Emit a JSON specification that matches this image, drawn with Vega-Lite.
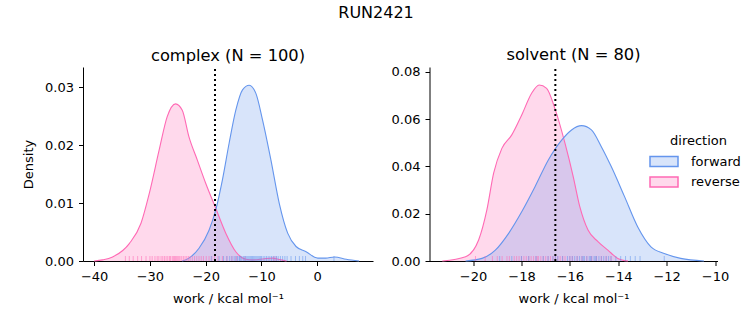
{
  "$schema": "https://vega.github.io/schema/vega-lite/v6.json",
  "padding": {"left": 22, "top": 5, "right": 5, "bottom": 5},
  "title": {"text": "RUN2421", "anchor": "middle", "fontSize": 16, "fontWeight": "normal", "offset": 26, "dx": -6},
  "datasets": {
    "curves": [
      {"panel": "complex", "direction": "reverse", "x": -40.0, "y": 0.0},
      {"panel": "complex", "direction": "reverse", "x": -38.5, "y": 0.0002},
      {"panel": "complex", "direction": "reverse", "x": -36.7, "y": 0.0007},
      {"panel": "complex", "direction": "reverse", "x": -33.7, "y": 0.003},
      {"panel": "complex", "direction": "reverse", "x": -31.6, "y": 0.0065},
      {"panel": "complex", "direction": "reverse", "x": -30.1, "y": 0.0117},
      {"panel": "complex", "direction": "reverse", "x": -28.35, "y": 0.0191},
      {"panel": "complex", "direction": "reverse", "x": -26.9, "y": 0.0249},
      {"panel": "complex", "direction": "reverse", "x": -25.4, "y": 0.0271},
      {"panel": "complex", "direction": "reverse", "x": -24.2, "y": 0.026},
      {"panel": "complex", "direction": "reverse", "x": -23.0, "y": 0.0214},
      {"panel": "complex", "direction": "reverse", "x": -21.5, "y": 0.0174},
      {"panel": "complex", "direction": "reverse", "x": -20.0, "y": 0.0134},
      {"panel": "complex", "direction": "reverse", "x": -18.2, "y": 0.0091},
      {"panel": "complex", "direction": "reverse", "x": -16.4, "y": 0.0048},
      {"panel": "complex", "direction": "reverse", "x": -14.6, "y": 0.0016},
      {"panel": "complex", "direction": "reverse", "x": -12.8, "y": 0.0003},
      {"panel": "complex", "direction": "reverse", "x": -11.5, "y": 0.0002},
      {"panel": "complex", "direction": "reverse", "x": -9.5, "y": 0.0004},
      {"panel": "complex", "direction": "reverse", "x": -8.0, "y": 0.0005},
      {"panel": "complex", "direction": "reverse", "x": -7.0, "y": 0.0003},
      {"panel": "complex", "direction": "reverse", "x": -5.5, "y": 0.0},
      {"panel": "complex", "direction": "forward", "x": -24.2, "y": 0.0},
      {"panel": "complex", "direction": "forward", "x": -23.0, "y": 0.0005},
      {"panel": "complex", "direction": "forward", "x": -21.2, "y": 0.0022},
      {"panel": "complex", "direction": "forward", "x": -19.4, "y": 0.0053},
      {"panel": "complex", "direction": "forward", "x": -18.2, "y": 0.0088},
      {"panel": "complex", "direction": "forward", "x": -17.0, "y": 0.014},
      {"panel": "complex", "direction": "forward", "x": -15.8, "y": 0.0203},
      {"panel": "complex", "direction": "forward", "x": -14.6, "y": 0.026},
      {"panel": "complex", "direction": "forward", "x": -13.4, "y": 0.0295},
      {"panel": "complex", "direction": "forward", "x": -12.2, "y": 0.0303},
      {"panel": "complex", "direction": "forward", "x": -11.0, "y": 0.0289},
      {"panel": "complex", "direction": "forward", "x": -9.8, "y": 0.0243},
      {"panel": "complex", "direction": "forward", "x": -8.3, "y": 0.0174},
      {"panel": "complex", "direction": "forward", "x": -6.8, "y": 0.0099},
      {"panel": "complex", "direction": "forward", "x": -5.3, "y": 0.0048},
      {"panel": "complex", "direction": "forward", "x": -3.8, "y": 0.0025},
      {"panel": "complex", "direction": "forward", "x": -2.0, "y": 0.0016},
      {"panel": "complex", "direction": "forward", "x": 0.1, "y": 0.0005},
      {"panel": "complex", "direction": "forward", "x": 1.5, "y": 0.0005},
      {"panel": "complex", "direction": "forward", "x": 3.1, "y": 0.0007},
      {"panel": "complex", "direction": "forward", "x": 5.2, "y": 0.0003},
      {"panel": "complex", "direction": "forward", "x": 7.5, "y": 0.0},
      {"panel": "solvent", "direction": "reverse", "x": -21.27, "y": 0.0},
      {"panel": "solvent", "direction": "reverse", "x": -20.31, "y": 0.0018},
      {"panel": "solvent", "direction": "reverse", "x": -19.77, "y": 0.0089},
      {"panel": "solvent", "direction": "reverse", "x": -19.43, "y": 0.0216},
      {"panel": "solvent", "direction": "reverse", "x": -19.15, "y": 0.0371},
      {"panel": "solvent", "direction": "reverse", "x": -18.81, "y": 0.0476},
      {"panel": "solvent", "direction": "reverse", "x": -18.4, "y": 0.0533},
      {"panel": "solvent", "direction": "reverse", "x": -17.99, "y": 0.0617},
      {"panel": "solvent", "direction": "reverse", "x": -17.58, "y": 0.0709},
      {"panel": "solvent", "direction": "reverse", "x": -17.27, "y": 0.0744},
      {"panel": "solvent", "direction": "reverse", "x": -16.96, "y": 0.073},
      {"panel": "solvent", "direction": "reverse", "x": -16.62, "y": 0.0645},
      {"panel": "solvent", "direction": "reverse", "x": -16.2, "y": 0.0497},
      {"panel": "solvent", "direction": "reverse", "x": -15.86, "y": 0.0356},
      {"panel": "solvent", "direction": "reverse", "x": -15.59, "y": 0.023},
      {"panel": "solvent", "direction": "reverse", "x": -15.25, "y": 0.0131},
      {"panel": "solvent", "direction": "reverse", "x": -14.84, "y": 0.0082},
      {"panel": "solvent", "direction": "reverse", "x": -14.43, "y": 0.0046},
      {"panel": "solvent", "direction": "reverse", "x": -14.02, "y": 0.0011},
      {"panel": "solvent", "direction": "reverse", "x": -13.6, "y": 0.0},
      {"panel": "solvent", "direction": "forward", "x": -20.31, "y": 0.0},
      {"panel": "solvent", "direction": "forward", "x": -19.63, "y": 0.0011},
      {"panel": "solvent", "direction": "forward", "x": -19.08, "y": 0.0046},
      {"panel": "solvent", "direction": "forward", "x": -18.53, "y": 0.0117},
      {"panel": "solvent", "direction": "forward", "x": -17.99, "y": 0.0208},
      {"panel": "solvent", "direction": "forward", "x": -17.44, "y": 0.0314},
      {"panel": "solvent", "direction": "forward", "x": -16.89, "y": 0.0427},
      {"panel": "solvent", "direction": "forward", "x": -16.34, "y": 0.0511},
      {"panel": "solvent", "direction": "forward", "x": -15.93, "y": 0.0554},
      {"panel": "solvent", "direction": "forward", "x": -15.52, "y": 0.0572},
      {"panel": "solvent", "direction": "forward", "x": -15.11, "y": 0.0554},
      {"panel": "solvent", "direction": "forward", "x": -14.7, "y": 0.0483},
      {"panel": "solvent", "direction": "forward", "x": -14.29, "y": 0.0399},
      {"panel": "solvent", "direction": "forward", "x": -13.74, "y": 0.0272},
      {"panel": "solvent", "direction": "forward", "x": -13.2, "y": 0.0145},
      {"panel": "solvent", "direction": "forward", "x": -12.65, "y": 0.006},
      {"panel": "solvent", "direction": "forward", "x": -12.1, "y": 0.0032},
      {"panel": "solvent", "direction": "forward", "x": -11.42, "y": 0.0011},
      {"panel": "solvent", "direction": "forward", "x": -10.46, "y": 0.0}
    ],
    "rugs": [
      {"panel": "complex", "direction": "reverse", "x": -34.4},
      {"panel": "complex", "direction": "reverse", "x": -33.7},
      {"panel": "complex", "direction": "reverse", "x": -33.0},
      {"panel": "complex", "direction": "reverse", "x": -32.2},
      {"panel": "complex", "direction": "reverse", "x": -31.5},
      {"panel": "complex", "direction": "reverse", "x": -30.7},
      {"panel": "complex", "direction": "reverse", "x": -30.0},
      {"panel": "complex", "direction": "reverse", "x": -29.6},
      {"panel": "complex", "direction": "reverse", "x": -29.1},
      {"panel": "complex", "direction": "reverse", "x": -28.7},
      {"panel": "complex", "direction": "reverse", "x": -28.4},
      {"panel": "complex", "direction": "reverse", "x": -28.0},
      {"panel": "complex", "direction": "reverse", "x": -27.7},
      {"panel": "complex", "direction": "reverse", "x": -27.4},
      {"panel": "complex", "direction": "reverse", "x": -27.1},
      {"panel": "complex", "direction": "reverse", "x": -26.8},
      {"panel": "complex", "direction": "reverse", "x": -26.5},
      {"panel": "complex", "direction": "reverse", "x": -26.3},
      {"panel": "complex", "direction": "reverse", "x": -26.0},
      {"panel": "complex", "direction": "reverse", "x": -25.8},
      {"panel": "complex", "direction": "reverse", "x": -25.6},
      {"panel": "complex", "direction": "reverse", "x": -25.4},
      {"panel": "complex", "direction": "reverse", "x": -25.2},
      {"panel": "complex", "direction": "reverse", "x": -25.0},
      {"panel": "complex", "direction": "reverse", "x": -24.8},
      {"panel": "complex", "direction": "reverse", "x": -24.6},
      {"panel": "complex", "direction": "reverse", "x": -24.3},
      {"panel": "complex", "direction": "reverse", "x": -24.0},
      {"panel": "complex", "direction": "reverse", "x": -23.7},
      {"panel": "complex", "direction": "reverse", "x": -23.4},
      {"panel": "complex", "direction": "reverse", "x": -23.1},
      {"panel": "complex", "direction": "reverse", "x": -22.8},
      {"panel": "complex", "direction": "reverse", "x": -22.4},
      {"panel": "complex", "direction": "reverse", "x": -22.0},
      {"panel": "complex", "direction": "reverse", "x": -21.6},
      {"panel": "complex", "direction": "reverse", "x": -21.2},
      {"panel": "complex", "direction": "reverse", "x": -20.8},
      {"panel": "complex", "direction": "reverse", "x": -20.4},
      {"panel": "complex", "direction": "reverse", "x": -19.9},
      {"panel": "complex", "direction": "reverse", "x": -19.4},
      {"panel": "complex", "direction": "reverse", "x": -18.9},
      {"panel": "complex", "direction": "reverse", "x": -18.4},
      {"panel": "complex", "direction": "reverse", "x": -17.8},
      {"panel": "complex", "direction": "reverse", "x": -17.0},
      {"panel": "complex", "direction": "reverse", "x": -16.2},
      {"panel": "complex", "direction": "reverse", "x": -15.3},
      {"panel": "complex", "direction": "reverse", "x": -14.5},
      {"panel": "complex", "direction": "reverse", "x": -12.9},
      {"panel": "complex", "direction": "reverse", "x": -7.8},
      {"panel": "complex", "direction": "reverse", "x": -7.4},
      {"panel": "complex", "direction": "forward", "x": -19.0},
      {"panel": "complex", "direction": "forward", "x": -17.6},
      {"panel": "complex", "direction": "forward", "x": -16.8},
      {"panel": "complex", "direction": "forward", "x": -16.2},
      {"panel": "complex", "direction": "forward", "x": -15.7},
      {"panel": "complex", "direction": "forward", "x": -15.3},
      {"panel": "complex", "direction": "forward", "x": -14.9},
      {"panel": "complex", "direction": "forward", "x": -14.6},
      {"panel": "complex", "direction": "forward", "x": -14.3},
      {"panel": "complex", "direction": "forward", "x": -14.0},
      {"panel": "complex", "direction": "forward", "x": -13.9},
      {"panel": "complex", "direction": "forward", "x": -13.7},
      {"panel": "complex", "direction": "forward", "x": -13.5},
      {"panel": "complex", "direction": "forward", "x": -13.2},
      {"panel": "complex", "direction": "forward", "x": -13.0},
      {"panel": "complex", "direction": "forward", "x": -12.8},
      {"panel": "complex", "direction": "forward", "x": -12.6},
      {"panel": "complex", "direction": "forward", "x": -12.4},
      {"panel": "complex", "direction": "forward", "x": -12.2},
      {"panel": "complex", "direction": "forward", "x": -12.0},
      {"panel": "complex", "direction": "forward", "x": -11.8},
      {"panel": "complex", "direction": "forward", "x": -11.6},
      {"panel": "complex", "direction": "forward", "x": -11.4},
      {"panel": "complex", "direction": "forward", "x": -11.2},
      {"panel": "complex", "direction": "forward", "x": -11.0},
      {"panel": "complex", "direction": "forward", "x": -10.8},
      {"panel": "complex", "direction": "forward", "x": -10.6},
      {"panel": "complex", "direction": "forward", "x": -10.4},
      {"panel": "complex", "direction": "forward", "x": -10.2},
      {"panel": "complex", "direction": "forward", "x": -10.0},
      {"panel": "complex", "direction": "forward", "x": -9.7},
      {"panel": "complex", "direction": "forward", "x": -9.4},
      {"panel": "complex", "direction": "forward", "x": -9.1},
      {"panel": "complex", "direction": "forward", "x": -8.8},
      {"panel": "complex", "direction": "forward", "x": -8.5},
      {"panel": "complex", "direction": "forward", "x": -8.2},
      {"panel": "complex", "direction": "forward", "x": -7.9},
      {"panel": "complex", "direction": "forward", "x": -7.6},
      {"panel": "complex", "direction": "forward", "x": -7.3},
      {"panel": "complex", "direction": "forward", "x": -7.0},
      {"panel": "complex", "direction": "forward", "x": -6.6},
      {"panel": "complex", "direction": "forward", "x": -6.2},
      {"panel": "complex", "direction": "forward", "x": -5.8},
      {"panel": "complex", "direction": "forward", "x": -5.4},
      {"panel": "complex", "direction": "forward", "x": -4.7},
      {"panel": "complex", "direction": "forward", "x": -3.9},
      {"panel": "complex", "direction": "forward", "x": -3.2},
      {"panel": "complex", "direction": "forward", "x": -2.6},
      {"panel": "complex", "direction": "forward", "x": -2.1},
      {"panel": "complex", "direction": "forward", "x": 3.0},
      {"panel": "solvent", "direction": "reverse", "x": -19.9},
      {"panel": "solvent", "direction": "reverse", "x": -19.5},
      {"panel": "solvent", "direction": "reverse", "x": -19.2},
      {"panel": "solvent", "direction": "reverse", "x": -19.0},
      {"panel": "solvent", "direction": "reverse", "x": -18.8},
      {"panel": "solvent", "direction": "reverse", "x": -18.6},
      {"panel": "solvent", "direction": "reverse", "x": -18.5},
      {"panel": "solvent", "direction": "reverse", "x": -18.3},
      {"panel": "solvent", "direction": "reverse", "x": -18.2},
      {"panel": "solvent", "direction": "reverse", "x": -18.1},
      {"panel": "solvent", "direction": "reverse", "x": -18.0},
      {"panel": "solvent", "direction": "reverse", "x": -17.9},
      {"panel": "solvent", "direction": "reverse", "x": -17.8},
      {"panel": "solvent", "direction": "reverse", "x": -17.7},
      {"panel": "solvent", "direction": "reverse", "x": -17.6},
      {"panel": "solvent", "direction": "reverse", "x": -17.5},
      {"panel": "solvent", "direction": "reverse", "x": -17.4},
      {"panel": "solvent", "direction": "reverse", "x": -17.35},
      {"panel": "solvent", "direction": "reverse", "x": -17.3},
      {"panel": "solvent", "direction": "reverse", "x": -17.2},
      {"panel": "solvent", "direction": "reverse", "x": -17.1},
      {"panel": "solvent", "direction": "reverse", "x": -17.0},
      {"panel": "solvent", "direction": "reverse", "x": -16.9},
      {"panel": "solvent", "direction": "reverse", "x": -16.8},
      {"panel": "solvent", "direction": "reverse", "x": -16.7},
      {"panel": "solvent", "direction": "reverse", "x": -16.6},
      {"panel": "solvent", "direction": "reverse", "x": -16.5},
      {"panel": "solvent", "direction": "reverse", "x": -16.4},
      {"panel": "solvent", "direction": "reverse", "x": -16.3},
      {"panel": "solvent", "direction": "reverse", "x": -16.2},
      {"panel": "solvent", "direction": "reverse", "x": -16.0},
      {"panel": "solvent", "direction": "reverse", "x": -15.9},
      {"panel": "solvent", "direction": "reverse", "x": -15.7},
      {"panel": "solvent", "direction": "reverse", "x": -15.5},
      {"panel": "solvent", "direction": "reverse", "x": -15.3},
      {"panel": "solvent", "direction": "reverse", "x": -15.1},
      {"panel": "solvent", "direction": "reverse", "x": -14.9},
      {"panel": "solvent", "direction": "reverse", "x": -14.7},
      {"panel": "solvent", "direction": "reverse", "x": -14.5},
      {"panel": "solvent", "direction": "reverse", "x": -14.3},
      {"panel": "solvent", "direction": "forward", "x": -18.9},
      {"panel": "solvent", "direction": "forward", "x": -18.4},
      {"panel": "solvent", "direction": "forward", "x": -18.0},
      {"panel": "solvent", "direction": "forward", "x": -17.7},
      {"panel": "solvent", "direction": "forward", "x": -17.4},
      {"panel": "solvent", "direction": "forward", "x": -17.1},
      {"panel": "solvent", "direction": "forward", "x": -16.9},
      {"panel": "solvent", "direction": "forward", "x": -16.7},
      {"panel": "solvent", "direction": "forward", "x": -16.6},
      {"panel": "solvent", "direction": "forward", "x": -16.5},
      {"panel": "solvent", "direction": "forward", "x": -16.3},
      {"panel": "solvent", "direction": "forward", "x": -16.1},
      {"panel": "solvent", "direction": "forward", "x": -16.0},
      {"panel": "solvent", "direction": "forward", "x": -15.9},
      {"panel": "solvent", "direction": "forward", "x": -15.8},
      {"panel": "solvent", "direction": "forward", "x": -15.7},
      {"panel": "solvent", "direction": "forward", "x": -15.6},
      {"panel": "solvent", "direction": "forward", "x": -15.5},
      {"panel": "solvent", "direction": "forward", "x": -15.45},
      {"panel": "solvent", "direction": "forward", "x": -15.4},
      {"panel": "solvent", "direction": "forward", "x": -15.3},
      {"panel": "solvent", "direction": "forward", "x": -15.2},
      {"panel": "solvent", "direction": "forward", "x": -15.15},
      {"panel": "solvent", "direction": "forward", "x": -15.1},
      {"panel": "solvent", "direction": "forward", "x": -15.0},
      {"panel": "solvent", "direction": "forward", "x": -14.95},
      {"panel": "solvent", "direction": "forward", "x": -14.9},
      {"panel": "solvent", "direction": "forward", "x": -14.8},
      {"panel": "solvent", "direction": "forward", "x": -14.7},
      {"panel": "solvent", "direction": "forward", "x": -14.6},
      {"panel": "solvent", "direction": "forward", "x": -14.5},
      {"panel": "solvent", "direction": "forward", "x": -14.4},
      {"panel": "solvent", "direction": "forward", "x": -14.3},
      {"panel": "solvent", "direction": "forward", "x": -14.1},
      {"panel": "solvent", "direction": "forward", "x": -13.9},
      {"panel": "solvent", "direction": "forward", "x": -13.7},
      {"panel": "solvent", "direction": "forward", "x": -13.5},
      {"panel": "solvent", "direction": "forward", "x": -13.3},
      {"panel": "solvent", "direction": "forward", "x": -13.1},
      {"panel": "solvent", "direction": "forward", "x": -12.1}
    ],
    "cutoffs": [
      {"panel": "complex", "x": -18.33},
      {"panel": "solvent", "x": -16.6}
    ]
  },
  "hconcat": [
    {
      "width": 290,
      "height": 194,
      "title": {"text": "complex (N = 100)", "offset": 2},
      "layer": [
        {
          "data": {"name": "curves"},
          "transform": [{"filter": "datum.panel == 'complex'"}],
          "mark": {"type": "area", "fillOpacity": 0.25, "interpolate": "monotone"},
          "encoding": {
            "x": {"field": "x", "type": "quantitative", "scale": {"domain": [-42, 10], "nice": false, "zero": false},
              "axis": {"values": [-40, -30, -20, -10, 0], "format": "d", "title": "work / kcal mol⁻¹"}},
            "y": {"field": "y", "type": "quantitative", "stack": null, "scale": {"domain": [0, 0.03345], "nice": false},
              "axis": {"values": [0, 0.01, 0.02, 0.03], "format": ".2f", "title": "Density"}},
            "color": {"field": "direction", "type": "nominal", "scale": {"domain": ["forward", "reverse"], "range": ["#6495ED", "#FF69B4"]}, "title": "direction",
              "legend": {"encode": {"symbols": {"update": {"fill": {"scale": "color", "field": "value"}, "stroke": {"scale": "color", "field": "value"}, "fillOpacity": {"value": 0.25}, "strokeOpacity": {"value": 1}, "opacity": {"value": 1}, "strokeWidth": {"value": 1.5}}}}}}
          }
        },
        {
          "data": {"name": "curves"},
          "transform": [{"filter": "datum.panel == 'complex'"}],
          "mark": {"type": "line", "strokeWidth": 1.1, "interpolate": "monotone"},
          "encoding": {
            "x": {"field": "x", "type": "quantitative"},
            "y": {"field": "y", "type": "quantitative"},
            "color": {"field": "direction", "type": "nominal"}
          }
        },
        {
          "data": {"name": "rugs"},
          "transform": [{"filter": "datum.panel == 'complex'"}],
          "mark": {"type": "tick", "orient": "vertical", "size": 5, "thickness": 1, "yOffset": -2.5, "opacity": 0.55},
          "encoding": {
            "x": {"field": "x", "type": "quantitative"},
            "y": {"datum": 0},
            "color": {"field": "direction", "type": "nominal"}
          }
        },
        {
          "data": {"name": "cutoffs"},
          "transform": [{"filter": "datum.panel == 'complex'"}],
          "mark": {"type": "rule", "color": "black", "strokeWidth": 2, "strokeDash": [2, 3]},
          "encoding": {"x": {"field": "x", "type": "quantitative"}, "y": {"datum": 0}, "y2": {"datum": 0.03345}}
        }
      ]
    },
    {
      "width": 288,
      "height": 194,
      "title": {"text": "solvent (N = 80)", "offset": 2},
      "layer": [
        {
          "data": {"name": "curves"},
          "transform": [{"filter": "datum.panel == 'solvent'"}],
          "mark": {"type": "area", "fillOpacity": 0.25, "interpolate": "monotone"},
          "encoding": {
            "x": {"field": "x", "type": "quantitative", "scale": {"domain": [-21.8, -9.9], "nice": false, "zero": false},
              "axis": {"values": [-20, -18, -16, -14, -12, -10], "format": "d", "title": "work / kcal mol⁻¹"}},
            "y": {"field": "y", "type": "quantitative", "stack": null, "scale": {"domain": [0, 0.082], "nice": false},
              "axis": {"values": [0, 0.02, 0.04, 0.06, 0.08], "format": ".2f", "title": null}},
            "color": {"field": "direction", "type": "nominal"}
          }
        },
        {
          "data": {"name": "curves"},
          "transform": [{"filter": "datum.panel == 'solvent'"}],
          "mark": {"type": "line", "strokeWidth": 1.1, "interpolate": "monotone"},
          "encoding": {
            "x": {"field": "x", "type": "quantitative"},
            "y": {"field": "y", "type": "quantitative"},
            "color": {"field": "direction", "type": "nominal"}
          }
        },
        {
          "data": {"name": "rugs"},
          "transform": [{"filter": "datum.panel == 'solvent'"}],
          "mark": {"type": "tick", "orient": "vertical", "size": 5, "thickness": 1, "yOffset": -2.5, "opacity": 0.55},
          "encoding": {
            "x": {"field": "x", "type": "quantitative"},
            "y": {"datum": 0},
            "color": {"field": "direction", "type": "nominal"}
          }
        },
        {
          "data": {"name": "cutoffs"},
          "transform": [{"filter": "datum.panel == 'solvent'"}],
          "mark": {"type": "rule", "color": "black", "strokeWidth": 2, "strokeDash": [2, 3]},
          "encoding": {"x": {"field": "x", "type": "quantitative"}, "y": {"datum": 0}, "y2": {"datum": 0.082}}
        }
      ]
    }
  ],
  "spacing": 17.5,
  "resolve": {"scale": {"x": "independent", "y": "independent"}},
  "config": {
    "font": "DejaVu Sans",
    "view": {"stroke": null},
    "axis": {
      "grid": false, "domainColor": "black", "tickColor": "black", "labelColor": "black", "titleColor": "black",
      "labelFontSize": 13, "titleFontSize": 13, "titleFontWeight": "normal", "tickSize": 4.5, "labelPadding": 5,
      "domainWidth": 1, "tickWidth": 1, "labelFont": "DejaVu Sans", "titleFont": "DejaVu Sans", "titlePadding": 9
    },
    "title": {"font": "DejaVu Sans", "fontSize": 16.3, "fontWeight": "normal", "color": "black"},
    "legend": {
      "orient": "none", "legendX": 572.5, "legendY": 68,
      "titleFont": "DejaVu Sans", "titleFontSize": 13, "titleFontWeight": "normal", "titleColor": "black",
      "labelFont": "DejaVu Sans", "labelFontSize": 13, "labelColor": "black",
      "symbolType": "M-1.867,-0.667H1.867V0.667H-1.867Z", "symbolSize": 225, "symbolStrokeWidth": 1.5,
      "labelOffset": 18.5, "titleAnchor": "middle", "titlePadding": 5, "rowPadding": 3.4
    }
  }
}
